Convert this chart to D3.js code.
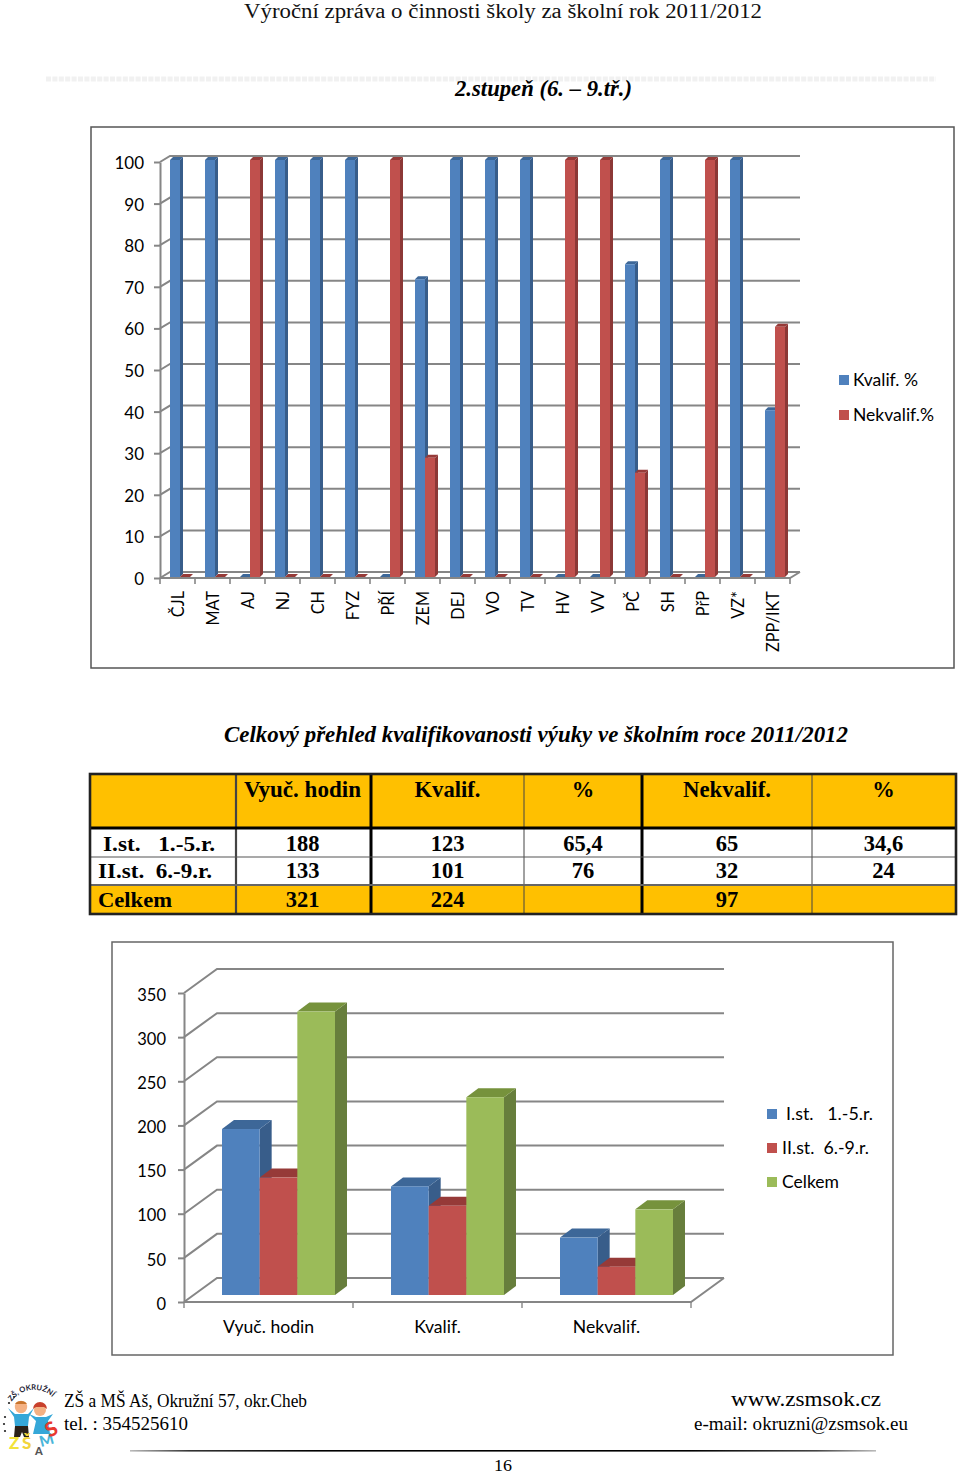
<!DOCTYPE html>
<html><head><meta charset="utf-8">
<script src="https://cdn.jsdelivr.net/npm/d3@7"></script>
<style>html,body{margin:0;padding:0;background:#fff}svg{display:block}</style>
</head><body><div id="c"></div>
<script>
// ---- Data ----
const subjects = ["ČJL","MAT","AJ","NJ","CH","FYZ","PŘÍ","ZEM","DEJ","VO","TV","HV","VV","PČ","SH","PřP","VZ*","ZPP/IKT"];
const kvalifPct = [100,100,0,100,100,100,0,71.4,100,100,100,0,0,75,100,0,100,40];
const nekvalifPct = [0,0,100,0,0,0,100,28.6,0,0,0,100,100,25,0,100,0,60];
const seriesA = ["Kvalif. %","Nekvalif.%"];
const tableHeader = ["","Vyuč. hodin","Kvalif.","%","Nekvalif.","%"];
const rowI = ["I.st.   1.-5.r.","188","123","65,4","65","34,6"];
const rowII = ["II.st.  6.-9.r.","133","101","76","32","24"];
const rowTotal = ["Celkem","321","224","","97",""];
const categoriesB = ["Vyuč. hodin","Kvalif.","Nekvalif."];
const seriesB = ["I.st.   1.-5.r.","II.st.  6.-9.r.","Celkem"];
const firstStage = [188,123,65];
const secondStage = [133,101,32];
const totals = [321,224,97];

// ---- Styles ----
const BLUE={f:"#4F81BD",s:"#385D8A",t:"#3D6798"}, RED={f:"#C0504D",s:"#8C3836",t:"#963A38"}, GREEN={f:"#9BBB59",s:"#677E3C",t:"#76923C"};
const GRID="#868686", SERIF="'Liberation Serif',serif", SANS="Lato,Carlito,sans-serif";

const svg=d3.select("#c").append("svg").attr("width",960).attr("height",1475).attr("viewBox","0 0 960 1475");
svg.append("rect").attr("width",960).attr("height",1475).attr("fill","#fff");

function txt(p,s,x,y,o={}){
  const t=p.append("text").attr("x",x).attr("y",y).text(s)
   .attr("font-family",o.fam||SERIF).attr("font-size",o.size||16).attr("fill",o.fill||"#000")
   .attr("text-anchor",o.anchor||"start").attr("xml:space","preserve").style("white-space","pre");
  if(o.bold)t.attr("font-weight",o.bold===true?"bold":o.bold);
  if(o.italic)t.attr("font-style","italic");
  if(o.len)t.attr("textLength",o.len).attr("lengthAdjust","spacingAndGlyphs");
  return t;
}
function bar3d(g,x,w,yTop,yBase,dx,dy,c){
  g.append("path").attr("d",`M${x+w},${yTop}L${x+w+dx},${yTop-dy}L${x+w+dx},${yBase-dy}L${x+w},${yBase}Z`).attr("fill",c.s);
  g.append("path").attr("d",`M${x},${yTop}L${x+dx},${yTop-dy}L${x+w+dx},${yTop-dy}L${x+w},${yTop}Z`).attr("fill",c.t);
  g.append("rect").attr("x",x).attr("y",yTop).attr("width",w).attr("height",Math.max(0,yBase-yTop)).attr("fill",c.f);
}
function chart(o){
  const g=svg.append("g");
  g.append("rect").attr("x",o.frame[0]).attr("y",o.frame[1]).attr("width",o.frame[2]-o.frame[0]).attr("height",o.frame[3]-o.frame[1])
    .attr("fill","#fff").attr("stroke",o.frameColor).attr("stroke-width",1.5);
  const y=d3.scaleLinear().domain(o.domain).range(o.yFront);
  const xb=d3.scaleBand().domain(o.cats).range(o.xRange);
  const x0=o.xRange[0], x1=o.xRange[1], dX=o.wall[0], dY=o.wall[1], tv=d3.range(o.domain[0],o.domain[1]+1,o.step);
  // walls + gridlines
  g.append("g").selectAll("path").data(tv).join("path")
    .attr("d",v=>`M${x0},${y(v)}L${x0+dX},${y(v)-dY}L${x1+dX},${y(v)-dY}`)
    .attr("fill","none").attr("stroke",GRID).attr("stroke-width",o.gridW);
  g.append("path").attr("d",`M${x0},${y(0)}L${x1},${y(0)}L${x1+dX},${y(0)-dY}`).attr("fill","none").attr("stroke",GRID).attr("stroke-width",o.gridW);
  // y axis
  const ax=g.append("g").attr("transform",`translate(${x0},0)`)
    .call(d3.axisLeft(y).tickValues(tv).tickSize(6).tickSizeOuter(0).tickPadding(o.yPad));
  ax.selectAll("path,line").attr("stroke",GRID).attr("stroke-width",o.gridW);
  ax.selectAll("text").attr("font-family",SANS).attr("font-size",o.yFont).attr("fill","#000").attr("y",o.yShift);
  // x ticks
  g.append("g").selectAll("line").data(o.cats.map(c=>xb(c)).concat([x1])).join("line")
    .attr("x1",d=>d).attr("x2",d=>d).attr("y1",y(0)).attr("y2",y(0)+6).attr("stroke",GRID).attr("stroke-width",o.tickW);
  // bars
  const inner=d3.scaleBand().domain(o.series).range(o.inner);
  const yb=d3.scaleLinear().domain(o.domain).range(o.yBar);
  o.cats.forEach((c,i)=>{
    o.series.forEach((s,k)=>{
      bar3d(g,xb(c)+inner(s),inner.bandwidth(),yb(o.values[k][i]),yb(0),o.depth[0],o.depth[1],o.colors[k]);
    });
  });
  // x labels
  const xa=g.append("g").attr("transform",`translate(0,${o.labelY})`)
    .call(d3.axisBottom(xb).tickSize(0).tickPadding(0));
  xa.select("path").remove();
  xa.selectAll("text").attr("font-family",SANS).attr("font-size",o.xFont).attr("fill","#000");
  if(o.rotate){
    xa.selectAll("text").attr("transform","rotate(-90)").attr("text-anchor","end").attr("x",0).attr("y",1).attr("dy","0.36em").attr("dx",0);
  } else {
    xa.selectAll("text").attr("y",0).attr("dy",0);
  }
  // legend
  o.series.forEach((s,k)=>{
    g.append("rect").attr("x",o.legend.x).attr("y",o.legend.y[k]).attr("width",10).attr("height",10).attr("fill",o.colors[k].f);
    txt(g,s,o.legend.tx[k],o.legend.y[k]+10.5,{fam:SANS,size:o.legFont,len:o.legend.len[k]});
  });
}

// ---- Page header ----
txt(svg,"Výroční zpráva o činnosti školy za školní rok 2011/2012",244,18,{size:20,len:518,fill:"#111"});
svg.append("line").attr("x1",46).attr("x2",936).attr("y1",79).attr("y2",79).attr("stroke","#f1f1f1").attr("stroke-width",5).attr("stroke-dasharray","5 1.4");
txt(svg,"2.stupeň (6. – 9.tř.)",455,96,{size:23,bold:true,italic:true,len:177});

// ---- Chart 1 ----
chart({frame:[91,127,954,668],frameColor:"#555",domain:[0,100],step:10,yFront:[578,162],yBar:[577,160],
  xRange:[160,790],wall:[10,6],cats:subjects,series:seriesA,values:[kvalifPct,nekvalifPct],colors:[BLUE,RED],
  inner:[10,30],depth:[3,3],gridW:2,tickW:1.6,yPad:10,yFont:17,yShift:1,xFont:16.3,labelY:591,rotate:true,
  legend:{x:839,y:[375,410],tx:[853,853],len:[65,81]},legFont:16.5});

txt(svg,"Celkový přehled kvalifikovanosti výuky ve školním roce 2011/2012",224,742,{size:23,bold:true,italic:true,len:624});

// ---- Table ----
const colX=[90,236,371,524,642,812,956];
const rowY=[774,828,857,885,914];
const tableRows=[tableHeader,rowI,rowII,rowTotal];
const tfills=["#FFC000","#fff","#fff","#FFC000"];
const base=[797,851,878,907];
const tg=svg.append("g");
tableRows.forEach((r,i)=>tg.append("rect").attr("x",colX[0]).attr("y",rowY[i]).attr("width",colX[6]-colX[0]).attr("height",rowY[i+1]-rowY[i]).attr("fill",tfills[i]));
const vb=[1,2,3,4,5];
const vw={1:2.2,2:3,3:1,4:3,5:1}, vc={1:"#444",2:"#000",3:"#444",4:"#000",5:"#444"};
vb.forEach(k=>tg.append("line").attr("x1",colX[k]).attr("x2",colX[k]).attr("y1",rowY[0]).attr("y2",rowY[4]).attr("stroke",vc[k]).attr("stroke-width",vw[k]));
[[rowY[1],3,"#000"],[rowY[2],1.2,"#555"],[rowY[3],2.2,"#666"]].forEach(h=>tg.append("line").attr("x1",colX[0]).attr("x2",colX[6]).attr("y1",h[0]).attr("y2",h[0]).attr("stroke",h[2]).attr("stroke-width",h[1]));
tg.append("rect").attr("x",colX[0]).attr("y",rowY[0]).attr("width",colX[6]-colX[0]).attr("height",rowY[4]-rowY[0]).attr("fill","none").attr("stroke","#222").attr("stroke-width",2.6);
const labelX=[0,103,98,98];
const headerLen=[0,117,66,0,88,0];
const cellX=[0,302.5,447.5,583,727,883.5];
tableRows.forEach((r,i)=>r.forEach((s,j)=>{
  if(!s)return;
  if(j===0) txt(tg,s,labelX[i],base[i],{size:22,bold:true,len:i===1?112:i===2?114:74});
  else txt(tg,s,cellX[j],base[i],{size:22.5,bold:true,anchor:"middle",len:i===0?(headerLen[j]||undefined):undefined});
}));

// ---- Chart 2 ----
chart({frame:[112,942,893,1355],frameColor:"#666",domain:[0,350],step:50,yFront:[1302,993],yBar:[1295,986],
  xRange:[184,691],wall:[33,24],cats:categoriesB,series:seriesB,values:[firstStage,secondStage,totals],colors:[BLUE,RED,GREEN],
  inner:[38,151],depth:[12,9],gridW:2,tickW:1.4,yPad:12,yFont:16.5,yShift:2,xFont:17.6,labelY:1333,rotate:false,
  legend:{x:767,y:[1109,1143,1177],tx:[786,782,782],len:[87,87,57]},legFont:16.5});

// ---- Footer ----
txt(svg,"ZŠ a MŠ Aš, Okružní 57, okr.Cheb",64,1407,{size:18,len:243});
txt(svg,"tel. : 354525610",64,1430,{size:18.5,len:124});
txt(svg,"www.zsmsok.cz",731,1406,{size:21,len:150});
txt(svg,"e-mail: okruzni@zsmsok.eu",694,1430,{size:18.5,len:214});
const defs=svg.append("defs");
const lg=defs.append("linearGradient").attr("id","fade");
[[0,"#bbb"],[0.08,"#333"],[0.25,"#000"],[0.75,"#000"],[0.92,"#444"],[1,"#bbb"]].forEach(s=>lg.append("stop").attr("offset",s[0]).attr("stop-color",s[1]));
svg.append("rect").attr("x",130).attr("y",1450).attr("width",746).attr("height",1.6).attr("fill","url(#fade)");
txt(svg,"16",503,1471,{size:17,anchor:"middle",len:18});

// ---- School logo ----
const lo=svg.append("g");
defs.append("path").attr("id","arcL").attr("d","M7,1414 A27,27 0 0 1 60,1410");
lo.append("text").append("textPath").attr("href","#arcL").attr("startOffset","18%").text("ZŠ, OKRUŽNÍ")
  .attr("font-family",SANS).attr("font-size",7.5).attr("font-weight","bold").attr("fill","#223");
[[5,1417],[4,1424],[5,1431],[9,1403],[14,1397]].forEach(p=>lo.append("circle").attr("cx",p[0]).attr("cy",p[1]).attr("r",1.1).attr("fill","#222"));
// boy
lo.append("path").attr("d","M8,1408L15,1414L28,1414L34,1408L29,1417L28,1426L15,1426L14,1417Z").attr("fill","#35a7d8");
lo.append("path").attr("d","M15,1426h13l1,11h-5l-2,-5l-2,5h-6Z").attr("fill","#2b2118");
lo.append("circle").attr("cx",21).attr("cy",1407).attr("r",6.2).attr("fill","#f4b183");
lo.append("path").attr("d","M15,1404a6.5,5 0 0 1 12,0Z").attr("fill","#c8742c");
// girl
lo.append("path").attr("d","M29,1414L36,1417L46,1417L53,1414L48,1421L50,1434L33,1434L36,1421Z").attr("fill","#35a7d8");
lo.append("circle").attr("cx",40).attr("cy",1410).attr("r",6).attr("fill","#f4b183");
lo.append("path").attr("d","M33,1409a7,7 0 0 1 14,0l-3,-2l-8,0Z").attr("fill","#c8402c");
// letters
[["Z",9,1449,"#f2e33a",17,0],["Š",22,1449,"#f2d43a",17,0],["A",35,1455,"#555",11,0],["M",41,1447,"#4ab5d9",15,-15],["S",50,1438,"#e8392f",20,-30]].forEach(l=>{
  txt(lo,l[0],l[1],l[2],{fam:SANS,size:l[4],bold:"900",fill:l[3]}).attr("transform",`rotate(${l[5]},${l[1]},${l[2]})`);
});
</script></body></html>
